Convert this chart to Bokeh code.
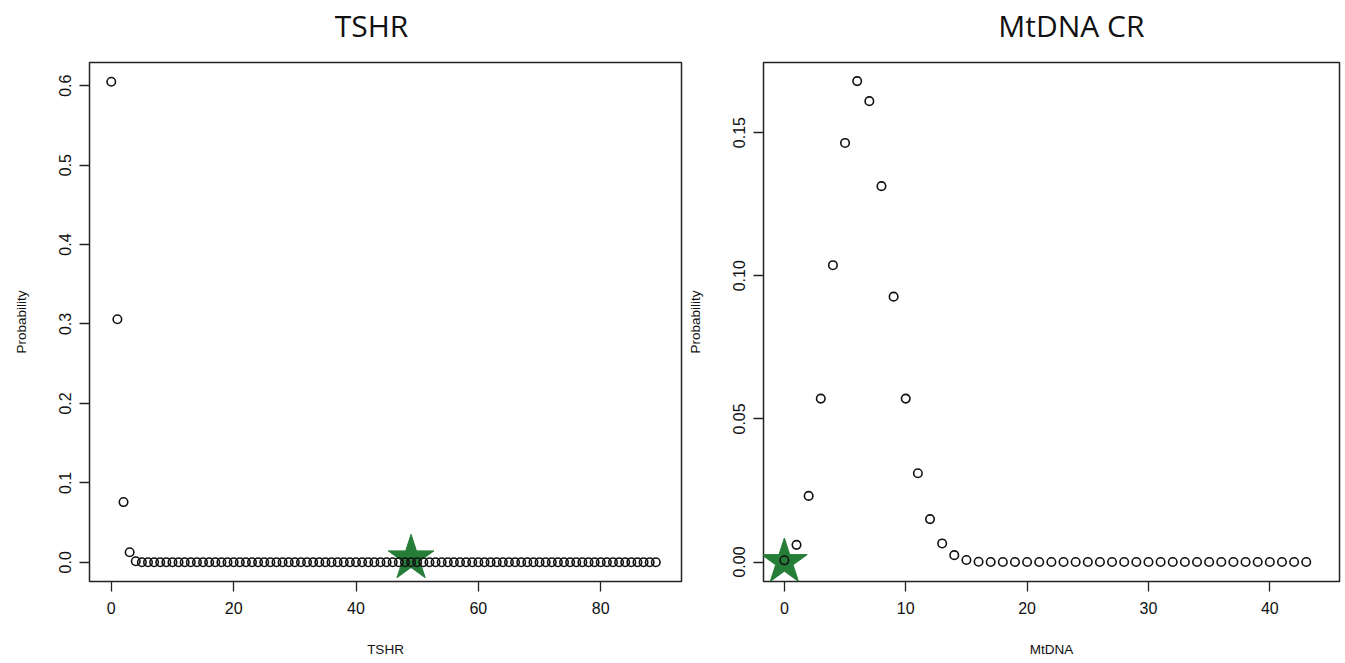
from bokeh.plotting import figure
from bokeh.layouts import row
from bokeh.models import FixedTicker, Range1d, ColumnDataSource, LinearAxis
from bokeh.embed import file_html
from bokeh.resources import INLINE

# ---------------- data ----------------
tshr_counts = list(range(90))
tshr_prob = [
    0.605, 0.306, 0.0758, 0.0126, 0.0013, 0.0, 0.0, 0.0, 0.0, 0.0,
    0.0, 0.0, 0.0, 0.0, 0.0, 0.0, 0.0, 0.0, 0.0, 0.0,
    0.0, 0.0, 0.0, 0.0, 0.0, 0.0, 0.0, 0.0, 0.0, 0.0,
    0.0, 0.0, 0.0, 0.0, 0.0, 0.0, 0.0, 0.0, 0.0, 0.0,
    0.0, 0.0, 0.0, 0.0, 0.0, 0.0, 0.0, 0.0, 0.0, 0.0,
    0.0, 0.0, 0.0, 0.0, 0.0, 0.0, 0.0, 0.0, 0.0, 0.0,
    0.0, 0.0, 0.0, 0.0, 0.0, 0.0, 0.0, 0.0, 0.0, 0.0,
    0.0, 0.0, 0.0, 0.0, 0.0, 0.0, 0.0, 0.0, 0.0, 0.0,
    0.0, 0.0, 0.0, 0.0, 0.0, 0.0, 0.0, 0.0, 0.0, 0.0,
]
tshr_star_x = [49]
tshr_star_y = [0.005]
tshr_xticks = [0, 20, 40, 60, 80]
tshr_yticks = [0.0, 0.1, 0.2, 0.3, 0.4, 0.5, 0.6]
tshr_ytick_labels = ["0.0", "0.1", "0.2", "0.3", "0.4", "0.5", "0.6"]

mtdna_counts = list(range(44))
mtdna_prob = [
    0.0006, 0.0060, 0.0231, 0.0571, 0.1037, 0.1464, 0.1680, 0.1610, 0.1313, 0.0927,
    0.0571, 0.0310, 0.0150, 0.0065, 0.0024, 0.0007, 0.0001, 0.0, 0.0, 0.0,
    0.0, 0.0, 0.0, 0.0, 0.0, 0.0, 0.0, 0.0, 0.0, 0.0,
    0.0, 0.0, 0.0, 0.0, 0.0, 0.0, 0.0, 0.0, 0.0, 0.0,
    0.0, 0.0, 0.0, 0.0,
]
mtdna_star_x = [0]
mtdna_star_y = [0.0]
mtdna_xticks = [0, 10, 20, 30, 40]
mtdna_yticks = [0.0, 0.05, 0.10, 0.15]
mtdna_ytick_labels = ["0.00", "0.05", "0.10", "0.15"]

STAR_COLOR = "#257D37"
TICK_FONT = "Liberation Sans"
FIG_H = 663
BORDER_TOP = 62
BORDER_BOTTOM = 82


def make_panel(title, xlabel, xs, ys, sx, sy, xr, yr, xticks, yticks, ylabels,
               width, border_left, border_right, title_pos):
    p = figure(width=width, height=FIG_H, output_backend="svg", toolbar_location=None,
               x_range=Range1d(*xr), y_range=Range1d(*yr),
               min_border_left=border_left, min_border_right=border_right,
               min_border_top=BORDER_TOP, min_border_bottom=BORDER_BOTTOM)
    p.background_fill_color = "white"
    p.border_fill_color = "white"
    p.outline_line_color = "#222222"
    p.outline_line_width = 1.5
    p.grid.visible = False
    p.title.visible = False

    # title drawn as the single label of an axis above the frame
    p.extra_x_ranges = {"title": Range1d(0, 1)}
    title_axis = LinearAxis(x_range_name="title", ticker=FixedTicker(ticks=[title_pos]),
                            major_label_overrides={title_pos: title},
                            axis_line_color=None, major_tick_out=0, major_tick_in=0,
                            major_tick_line_color=None, minor_tick_line_color=None,
                            minor_tick_out=0, major_label_standoff=17,
                            major_label_text_font="Open Sans",
                            major_label_text_font_size="30px",
                            major_label_text_color="#111111")
    p.add_layout(title_axis, "above")

    xax = p.below[0]
    yax = p.left[0]
    for ax in (xax, yax):
        ax.axis_line_color = None
        ax.major_tick_out = 10
        ax.major_tick_in = 0
        ax.major_tick_line_color = "#222222"
        ax.major_tick_line_width = 1.3
        ax.minor_tick_line_color = None
        ax.major_label_text_font = TICK_FONT
        ax.major_label_text_font_size = "16px"
        ax.major_label_text_color = "#111111"
        ax.axis_label_text_font = TICK_FONT
        ax.axis_label_text_font_size = "13.5px"
        ax.axis_label_text_font_style = "normal"
        ax.axis_label_text_color = "#111111"

    xax.ticker = FixedTicker(ticks=xticks)
    yax.ticker = FixedTicker(ticks=yticks)
    yax.major_label_overrides = {t: l for t, l in zip(yticks, ylabels)}
    yax.major_label_orientation = "parallel"
    xax.major_label_standoff = 10
    yax.major_label_standoff = 8
    xax.axis_label = xlabel
    yax.axis_label = "Probability"
    xax.axis_label_standoff = 25
    yax.axis_label_standoff = 28

    star_src = ColumnDataSource(dict(x=sx, y=sy))
    p.scatter("x", "y", source=star_src, marker="star", size=48,
              fill_color=STAR_COLOR, line_color=STAR_COLOR, line_width=1)

    src = ColumnDataSource(dict(x=xs, y=ys))
    p.scatter("x", "y", source=src, marker="circle", size=8.5,
              fill_color=None, line_color="#111111", line_width=1.6)
    return p


p1 = make_panel("TSHR", "TSHR", tshr_counts, tshr_prob, tshr_star_x, tshr_star_y,
                (-3.56, 93.2), (-0.0242, 0.6292), tshr_xticks, tshr_yticks,
                tshr_ytick_labels, width=684, border_left=89, border_right=3,
                title_pos=0.4764)
p2 = make_panel("MtDNA CR", "MtDNA", mtdna_counts, mtdna_prob, mtdna_star_x, mtdna_star_y,
                (-1.72, 45.74), (-0.0068, 0.1745), mtdna_xticks, mtdna_yticks,
                mtdna_ytick_labels, width=661, border_left=77, border_right=6,
                title_pos=0.5346)

layout = row(p1, p2)
open("out.html", "w").write(file_html(layout, INLINE))
